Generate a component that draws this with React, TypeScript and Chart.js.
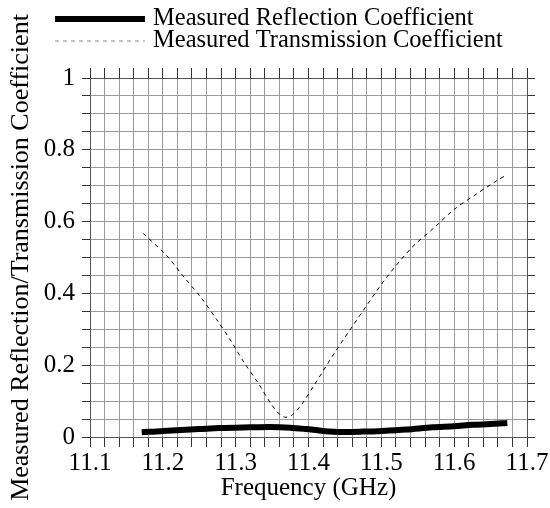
import React, { useEffect, useRef } from "react";
import { Chart, registerables } from "chart.js";

Chart.register(...registerables);

const reflectionFreq = [11.171, 11.2, 11.25, 11.278, 11.32, 11.347, 11.375, 11.397, 11.42, 11.447, 11.475, 11.501, 11.535, 11.57, 11.6, 11.625, 11.65, 11.673];
const reflectionValues = [0.013, 0.017, 0.022, 0.025, 0.027, 0.028, 0.026, 0.022, 0.017, 0.014, 0.015, 0.017, 0.021, 0.027, 0.03, 0.034, 0.036, 0.039];

const transmissionFreq = [11.173, 11.205, 11.228, 11.253, 11.274, 11.294, 11.312, 11.331, 11.349, 11.362, 11.369, 11.378, 11.39, 11.408, 11.436, 11.474, 11.507, 11.542, 11.573, 11.6, 11.63, 11.657, 11.671];
const transmissionValues = [0.567, 0.506, 0.448, 0.387, 0.327, 0.266, 0.206, 0.15, 0.091, 0.06, 0.055, 0.062, 0.089, 0.145, 0.235, 0.349, 0.444, 0.528, 0.584, 0.634, 0.676, 0.712, 0.729];

const seriesLabels = ["Measured Reflection Coefficient", "Measured Transmission Coefficient"];
const xAxisTitle = "Frequency (GHz)";
const yAxisTitle = "Measured Reflection/Transmission Coefficient";

const FONT = "'Liberation Serif', 'Times New Roman', serif";

const isMultiple = (v: number, step: number) => Math.abs(v / step - Math.round(v / step)) < 1e-6;

const legendPlugin = {
  id: "customLegend",
  afterDraw(chart: any) {
    const ctx = chart.ctx;
    ctx.save();
    ctx.font = `24.5px ${FONT}`;
    ctx.textBaseline = "middle";
    ctx.textAlign = "left";
    const rows = [19, 41];
    chart.data.datasets.forEach((ds: any, i: number) => {
      const y = rows[i];
      ctx.beginPath();
      ctx.strokeStyle = i === 0 ? "#000" : "#888";
      ctx.lineWidth = i === 0 ? 6 : 1;
      ctx.setLineDash(ds.borderDash || []);
      ctx.moveTo(55, y);
      ctx.lineTo(145, y);
      ctx.stroke();
      ctx.setLineDash([]);
      ctx.fillStyle = "#000";
      ctx.fillText(ds.label, 153, y);
    });
    ctx.restore();
  },
};

export default function App() {
  const ref = useRef<HTMLCanvasElement | null>(null);
  useEffect(() => {
    document.body.style.margin = "0";
    const canvas = ref.current!;
    const gridColor = "#9a9a9a";
    const tickColor = "#333";
    const borderCfg = { display: true, color: "#555", width: 1 };
    const xTicks = {
      stepSize: 0.02,
      autoSkip: false,
      maxRotation: 0,
      minRotation: 0,
      padding: 1,
      color: "#000",
      font: { family: FONT, size: 25 },
      callback: (v: any) => (isMultiple(Number(v), 0.1) ? Number(v).toFixed(1) : ""),
    };
    const yTicks = {
      stepSize: 0.05,
      autoSkip: false,
      padding: 7,
      color: "#000",
      font: { family: FONT, size: 25 },
      callback: (v: any) => (isMultiple(Number(v), 0.2) ? String(Math.round(Number(v) * 10) / 10) : ""),
    };
    const chart = new Chart(canvas, {
      type: "line",
      data: {
        datasets: [
          {
            label: seriesLabels[0],
            data: reflectionFreq.map((x, i) => ({ x, y: reflectionValues[i] })),
            borderColor: "#000",
            borderWidth: 6,
            pointRadius: 0,
            tension: 0.3,
            borderCapStyle: "butt",
          },
          {
            label: seriesLabels[1],
            data: transmissionFreq.map((x, i) => ({ x, y: transmissionValues[i] })),
            borderColor: "#000",
            borderWidth: 1,
            borderDash: [4, 4],
            pointRadius: 0,
            tension: 0.3,
          },
        ],
      },
      options: {
        responsive: false,
        animation: false,
        devicePixelRatio: 1,
        layout: { padding: 0 },
        plugins: { legend: { display: false }, tooltip: { enabled: false } },
        scales: {
          x: {
            type: "linear",
            position: "bottom",
            min: 11.1,
            max: 11.7,
            ticks: xTicks,
            grid: { color: gridColor, tickColor, tickLength: 10, lineWidth: 1 },
            border: borderCfg,
            title: { display: true, text: xAxisTitle, color: "#000", font: { family: FONT, size: 25 }, padding: { top: 0, bottom: 5 } },
            afterFit: (s: any) => { s.height = 71; },
          },
          x2: {
            type: "linear",
            position: "top",
            min: 11.1,
            max: 11.7,
            ticks: { ...xTicks, display: false },
            grid: { color: gridColor, tickColor, tickLength: 10, drawOnChartArea: false },
            border: borderCfg,
            afterFit: (s: any) => { s.height = 78; },
          },
          y: {
            type: "linear",
            position: "left",
            min: 0,
            max: 1,
            ticks: yTicks,
            grid: { color: gridColor, tickColor, tickLength: 8, lineWidth: 1 },
            border: borderCfg,
            title: { display: true, text: yAxisTitle, color: "#000", font: { family: FONT, size: 26 }, padding: { top: 6, bottom: 0 } },
            afterFit: (s: any) => { s.width = 90; },
          },
          y2: {
            type: "linear",
            position: "right",
            min: 0,
            max: 1,
            ticks: { ...yTicks, display: false },
            grid: { color: gridColor, tickColor, tickLength: 8, drawOnChartArea: false },
            border: borderCfg,
            afterFit: (s: any) => { s.width = 23; },
          },
        },
      },
      plugins: [legendPlugin],
    } as any);
    return () => chart.destroy();
  }, []);
  return <canvas ref={ref} width={550} height={508} style={{ display: "block" }} />;
}
